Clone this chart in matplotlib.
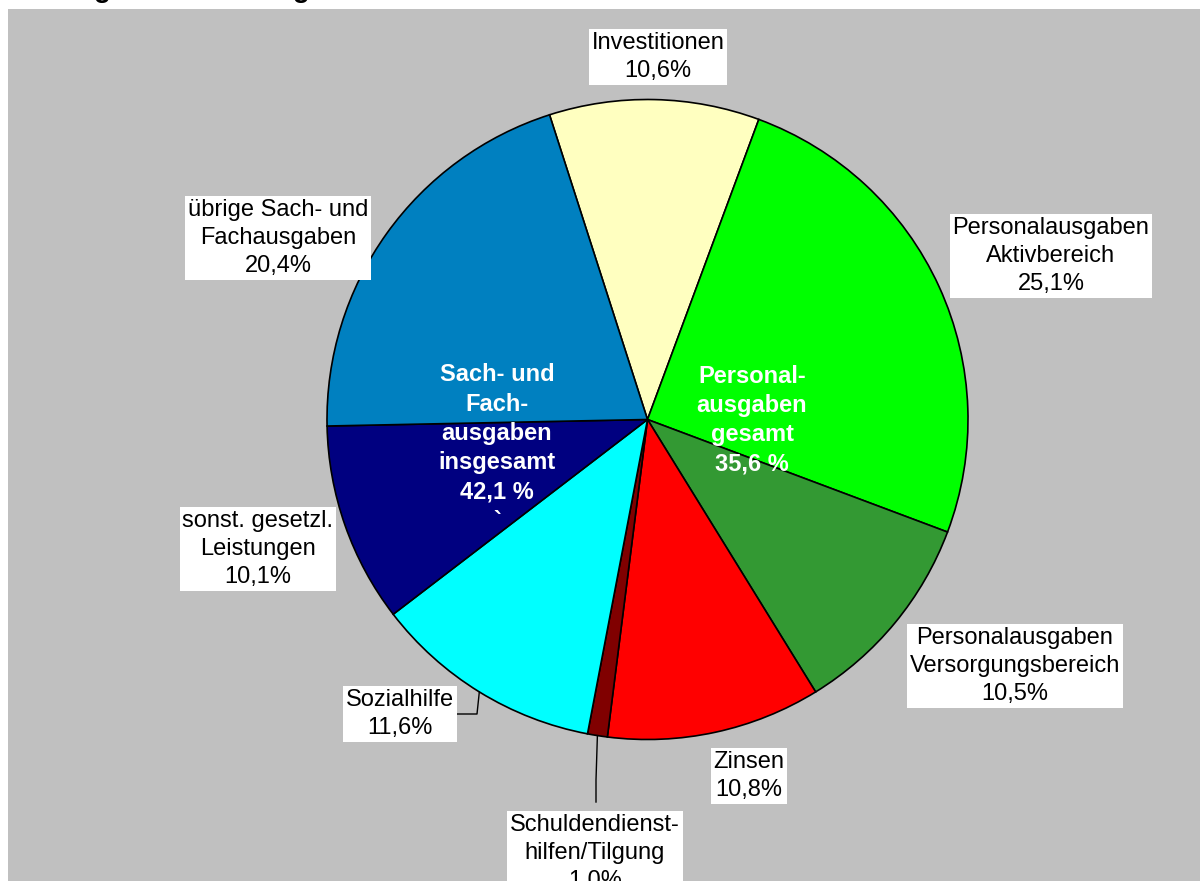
import numpy as np
import matplotlib
matplotlib.use("Agg")
import matplotlib.pyplot as plt
from matplotlib.patches import Rectangle

plt.rcParams['font.family'] = ['Liberation Sans', 'DejaVu Sans']

W, H = 1200, 881

categories = ["Investitionen", "Personalausgaben\nAktivbereich", "Personalausgaben\nVersorgungsbereich",
              "Zinsen", "Schuldendienst-\nhilfen/Tilgung", "Sozialhilfe",
              "sonst. gesetzl.\nLeistungen", "übrige Sach- und\nFachausgaben"]
values = [10.6, 25.1, 10.5, 10.8, 1.0, 11.6, 10.1, 20.4]
colors = ["#FFFFC0", "#00FF00", "#339933", "#FF0000", "#800000", "#00FFFF", "#000080", "#0080C0"]

# label centres in pixels (top-left origin)
label_pos = [(658, 57), (1051, 256), (1015, 666), (749, 776), (595, 853),
             (400, 714), (258, 549), (278, 238)]

group_labels = ["Personal-\nausgaben\ngesamt\n35,6 %", "Sach- und\nFach-\nausgaben\ninsgesamt\n42,1 %\n`"]
group_pos = [(752, 420), (497, 448)]


def fx(x):
    return x / W


def fy(y):
    return 1 - y / H


fig = plt.figure(figsize=(12, 8.81), dpi=100)
fig.patch.set_facecolor("white")
fig.patches.append(Rectangle((fx(8), 0), 1 - fx(8), fy(9), transform=fig.transFigure,
                             facecolor="#C0C0C0", edgecolor="none", zorder=-1))

fig.text(0.0, 1 + 3 / H, "Bereinigte Gesamtausgaben", fontsize=20, fontweight="bold",
         ha="left", va="baseline")

cx, cy, rx, ry = 647.5, 419.5, 320.5, 320
ax = fig.add_axes([fx(cx - rx), fy(cy + ry), 2 * rx / W, 2 * ry / H])
ax.set_zorder(1)

wedges, _ = ax.pie(values, colors=colors, startangle=107.8, counterclock=False, radius=1,
                   wedgeprops=dict(edgecolor="black", linewidth=1.2))
ax.set_aspect("auto")
ax.set_xlim(-1, 1)
ax.set_ylim(-1, 1)
ax.axis("off")
for w in wedges:
    w.set_clip_on(False)

for lab, v, (x, y) in zip(categories, values, label_pos):
    txt = lab + "\n" + f"{v:.1f}".replace(".", ",") + "%"
    t = fig.text(fx(x), fy(y), txt, ha="center", va="center", fontsize=17, linespacing=1.35,
                 bbox=dict(boxstyle="square,pad=0.12", facecolor="white", edgecolor="none"))
    t.set_zorder(3)

for lab, (x, y) in zip(group_labels, group_pos):
    t = fig.text(fx(x), fy(y), lab, ha="center", va="center", fontsize=17, fontweight="bold",
                 color="white", linespacing=1.35)
    t.set_zorder(3)

# leader lines for Schuldendiensthilfen and Sozialhilfe
for i, elbow in [(4, [(596, 780), (596, 802)]), (5, [(477, 714), (457, 714)])]:
    w = wedges[i]
    a = np.deg2rad((w.theta1 + w.theta2) / 2)
    ex, ey = cx + rx * np.cos(a), cy - ry * np.sin(a)
    pts = [(ex, ey)] + elbow
    ln = plt.Line2D([fx(p[0]) for p in pts], [fy(p[1]) for p in pts],
                    color="black", linewidth=1, transform=fig.transFigure)
    ln.set_zorder(2)
    fig.add_artist(ln)

fig.savefig("out.png", dpi=100)
